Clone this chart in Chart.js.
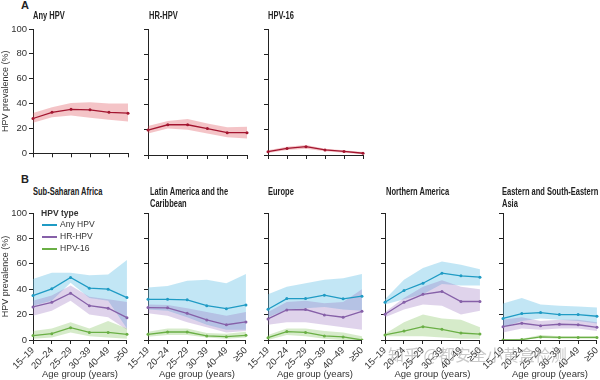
<!DOCTYPE html>
<html>
<head>
<meta charset="utf-8">
<script src="https://cdn.jsdelivr.net/npm/chart.js@4.4.1/dist/chart.umd.min.js"></script>
<style>
body { margin: 0; width: 600px; height: 380px; position: relative; background: #fff; overflow: hidden;
  font-family: "Liberation Sans", sans-serif; color: #222; }
canvas { position: absolute; }
.t { position: absolute; font-weight: bold; font-size: 10px; line-height: 11.5px; white-space: nowrap; z-index: 2;
  transform: scaleX(0.75); transform-origin: 0 0; }
.big { font-size: 11px; transform: none; }
.leg { position: absolute; font-size: 9.5px; white-space: nowrap; z-index: 2; line-height: 11px;
  transform: scaleX(0.9); transform-origin: 0 0; color: #333; }
.sw { position: absolute; width: 15px; height: 1.5px; z-index: 2; }
.wm { position: absolute; left: 388px; top: 342px; font-size: 16px; color: rgba(150,150,150,0.5);
  font-family: "Noto Sans CJK SC", sans-serif; white-space: nowrap; z-index: 3; }
</style>
</head>
<body>
<div class="t big" style="left:21px;top:0px">A</div>
<div class="t" style="left:33px;top:10px">Any HPV</div>
<div class="t" style="left:149px;top:10px">HR-HPV</div>
<div class="t" style="left:268px;top:10px">HPV-16</div>

<div class="t big" style="left:21px;top:174px">B</div>
<div class="t" style="left:33px;top:186px">Sub-Saharan Africa</div>
<div class="t" style="left:150px;top:186px">Latin America and the<br>Caribbean</div>
<div class="t" style="left:268px;top:186px">Europe</div>
<div class="t" style="left:386px;top:186px">Northern America</div>
<div class="t" style="left:502px;top:186px">Eastern and South-Eastern<br>Asia</div>

<div class="leg" style="left:41px;top:207px;font-weight:bold">HPV type</div>
<div class="sw" style="left:42px;top:224px;background:#1f9bc4"></div>
<div class="leg" style="left:60px;top:218px">Any HPV</div>
<div class="sw" style="left:42px;top:236px;background:#8660a8"></div>
<div class="leg" style="left:60px;top:230px">HR-HPV</div>
<div class="sw" style="left:42px;top:248px;background:#6aaf45"></div>
<div class="leg" style="left:60px;top:242px">HPV-16</div>

<div class="wm">知乎 @都安全小黄盒检测</div>

<script>
const ageGroups = ['15–19', '20–24', '25–29', '30–39', '40–49', '≥50']
const yTicks = [0, 20, 40, 60, 80, 100]

// panel A - all regions
const allAny = [28, 33, 35.4, 35, 33, 32.3]
const allAnyHi = [32.5, 37, 40.5, 41, 40, 40]
const allAnyLo = [24.6, 29, 30.5, 28.5, 27, 25.5]
const allHr = [19.8, 24, 24, 21, 17.7, 17.7]
const allHrHi = [23, 27, 28.5, 25, 22, 22.5]
const allHrLo = [17, 21, 20, 17, 14, 13]
const all16 = [2.6, 5.2, 6.6, 4, 2.8, 1.4]
const all16Hi = [3.8, 6.5, 8, 5, 3.8, 2.4]
const all16Lo = [1.6, 4, 5, 3, 1.8, 0.5]

// panel B - Sub-Saharan Africa
const ssaAny = [35, 40.3, 49.2, 40.8, 40, 33.4]
const ssaAnyHi = [48, 53, 53, 51, 51.5, 63]
const ssaAnyLo = [27, 31, 45, 33, 31, 9]
const ssaHr = [26, 29.7, 36.8, 27, 25, 17.6]
const ssaHrHi = [31, 35, 43, 34, 32, 30]
const ssaHrLo = [19, 23, 31, 20, 18, 8]
const ssa16 = [3.5, 5, 9.7, 6, 6, 4.5]
const ssa16Hi = [7, 9, 14, 9, 15, 9]
const ssa16Lo = [1, 2, 6, 3, 2, 1]

// Latin America and the Caribbean
const latAny = [32, 32, 31.6, 27, 24.7, 27.6]
const latAnyHi = [41.3, 42.6, 46.6, 47.4, 44.7, 52]
const latAnyLo = [24, 23, 18, 12, 8, 8]
const latHr = [25.5, 25.3, 21, 15.8, 12, 14.2]
const latHrHi = [28, 27.5, 25, 22, 19, 22]
const latHrLo = [21, 19, 14, 10, 6, 7]
const lat16 = [4.5, 6.3, 6.3, 3.2, 2.6, 3.7]
const lat16Hi = [6.5, 9, 9, 5.5, 5, 6.5]
const lat16Lo = [2.5, 4, 4, 2, 1, 2]

// Europe
const eurAny = [24.2, 32.6, 32.6, 35.3, 32.4, 34.5]
const eurAnyHi = [36, 42, 44.7, 47.4, 48.7, 52]
const eurAnyLo = [18, 24, 25, 26, 24, 23]
const eurHr = [16.6, 23.7, 24, 19.7, 17.9, 22.6]
const eurHrHi = [22, 30, 31, 29, 30, 40]
const eurHrLo = [12, 14, 14, 12, 10, 8]
const eur16 = [1.8, 6.6, 6, 3.2, 2.4, 0]
const eur16Hi = [4, 9, 9, 7, 6, 3]
const eur16Lo = [0, 4, 3, 1, 0, 0]

// Northern America
const namAny = [29.7, 39, 44.7, 52.6, 50.5, 49.5]
const namAnyHi = [32, 47.4, 56.6, 61.8, 59.2, 55.8]
const namAnyLo = [28, 32, 36, 44, 43, 43]
const namHr = [20.3, 29.7, 36, 38.2, 30.3, 30.3]
const namHrHi = [22, 33, 42, 47, 42, 40]
const namHrLo = [18, 24, 28, 27, 20, 23]
const nam16 = [4, 7, 10.5, 8.4, 5.5, 4.7]
const nam16Hi = [5, 14, 20, 17, 16, 10]
const nam16Lo = [3, 3, 3, 2, 1, 1]

// Eastern and South-Eastern Asia
const easAny = [17, 20.8, 21.6, 20, 20, 18.7]
const easAnyHi = [28.7, 33, 28, 27, 26.3, 25.5]
const easAnyLo = [10, 15, 17, 16, 15, 13]
const easHr = [10.5, 13.2, 11.3, 12.4, 12, 10]
const easHrHi = [16, 18, 15, 16, 16, 14]
const easHrLo = [6, 9, 8, 9, 9, 7]
const eas16 = [0, 0.3, 2.4, 2, 2, 2]
const eas16Hi = [0.5, 1, 4, 3, 3, 3]
const eas16Lo = [0, 0, 1.5, 1, 1, 1]

Chart.defaults.font.family = '"Liberation Sans", sans-serif'
Chart.defaults.font.size = 9.5
Chart.defaults.color = '#333'

const RED = '#a3152f', BLUE = '#1f9bc4', PURPLE = '#8660a8', GREEN = '#6aaf45'

const line = (data, color) => ({
	data,
	borderColor: color,
	backgroundColor: color,
	borderWidth: 1.3,
	pointRadius: 1.5,
	pointBorderWidth: 0,
	fill: false,
	order: 0,
})
const band = (hi, lo, color, order) => [
	{ data: hi, fill: '+1', backgroundColor: color, borderColor: 'transparent', borderWidth: 0, pointRadius: 0, order },
	{ data: lo, fill: false, borderColor: 'transparent', borderWidth: 0, pointRadius: 0, order },
]

const W = 33, PAD_T = 8, PAD_R = 8

function addChart(plotLeft, plotTop, plotW, plotH, bottomH, showY, showX, datasets) {
	const c = document.createElement('canvas')
	const cw = W + plotW + PAD_R, ch = PAD_T + plotH + bottomH
	c.width = cw
	c.height = ch
	c.style.left = plotLeft - W + 'px'
	c.style.top = plotTop - PAD_T + 'px'
	c.style.width = cw + 'px'
	c.style.height = ch + 'px'
	document.body.appendChild(c)
	new Chart(c, {
		type: 'line',
		data: { labels: ageGroups, datasets },
		options: {
			responsive: false,
			animation: false,
			layout: { padding: { top: PAD_T, right: PAD_R, left: 0, bottom: 0 } },
			plugins: { legend: { display: false }, tooltip: { enabled: false } },
			scales: {
				x: {
					offset: false,
					grid: { drawOnChartArea: false, tickLength: 4, color: '#222' },
					border: { color: '#222' },
					ticks: { display: showX, autoSkip: false, minRotation: 45, maxRotation: 45, padding: 1, color: '#333' },
					title: { display: showX, text: 'Age group (years)', padding: 0, color: '#333' },
					afterFit: (s) => { s.height = bottomH },
				},
				y: {
					min: 0,
					max: 100,
					afterBuildTicks: (s) => { s.ticks = yTicks.map((v) => ({ value: v })) },
					grid: { drawOnChartArea: false, tickLength: 4, color: '#222' },
					border: { color: '#222' },
					ticks: { display: showY, padding: 2, color: '#333' },
					title: { display: showY, text: 'HPV prevalence (%)', padding: 0, color: '#333', font: { size: 9 } },
					afterFit: (s) => { s.width = W },
				},
			},
		},
	})
}

const regional = (any, anyHi, anyLo, hr, hrHi, hrLo, h16, h16Hi, h16Lo) => [
	line(any, BLUE),
	line(hr, PURPLE),
	line(h16, GREEN),
	...band(anyHi, anyLo, 'rgba(110,195,230,0.42)', 3),
	...band(hrHi, hrLo, 'rgba(150,110,190,0.3)', 2),
	...band(h16Hi, h16Lo, 'rgba(120,190,80,0.3)', 1),
]

// panel A
const pink = 'rgba(220,60,70,0.3)'
addChart(33, 29, 95, 126, 6, true, false, [line(allAny, RED), ...band(allAnyHi, allAnyLo, pink, 1)])
addChart(148, 29, 99, 126, 6, false, false, [line(allHr, RED), ...band(allHrHi, allHrLo, pink, 1)])
addChart(268, 29, 95, 126, 6, false, false, [line(all16, RED), ...band(all16Hi, all16Lo, pink, 1)])

// panel B
addChart(33, 213, 95, 127, 40, true, true, regional(ssaAny, ssaAnyHi, ssaAnyLo, ssaHr, ssaHrHi, ssaHrLo, ssa16, ssa16Hi, ssa16Lo))
addChart(148, 213, 99, 127, 40, false, true, regional(latAny, latAnyHi, latAnyLo, latHr, latHrHi, latHrLo, lat16, lat16Hi, lat16Lo))
addChart(268, 213, 95, 127, 40, false, true, regional(eurAny, eurAnyHi, eurAnyLo, eurHr, eurHrHi, eurHrLo, eur16, eur16Hi, eur16Lo))
addChart(385, 213, 96, 127, 40, false, true, regional(namAny, namAnyHi, namAnyLo, namHr, namHrHi, namHrLo, nam16, nam16Hi, nam16Lo))
addChart(503, 213, 95, 127, 40, false, true, regional(easAny, easAnyHi, easAnyLo, easHr, easHrHi, easHrLo, eas16, eas16Hi, eas16Lo))
</script>
</body>
</html>
